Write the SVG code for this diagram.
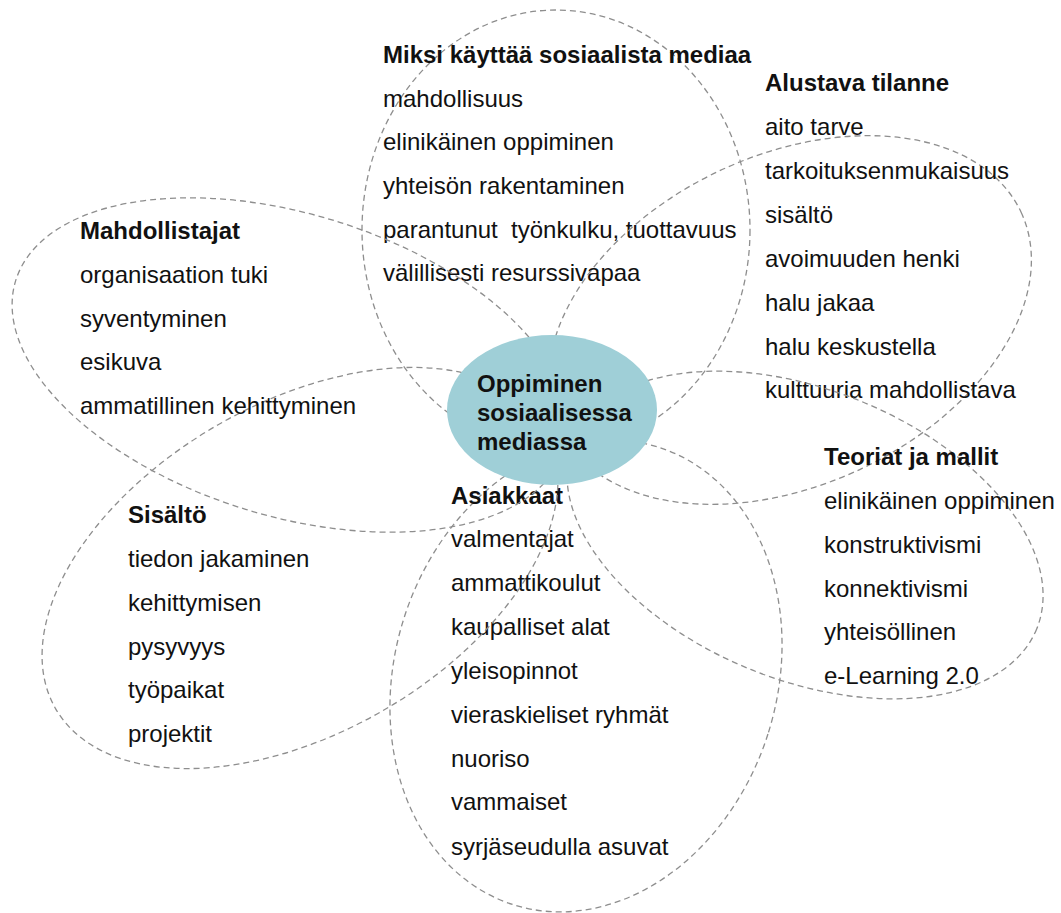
<svg xmlns="http://www.w3.org/2000/svg" width="1061" height="913" viewBox="0 0 1061 913">
<style>
.petal{fill:none;stroke:#8e8e8e;stroke-width:1.3;stroke-dasharray:6 4}
.t{font-family:"Liberation Sans",Arial,sans-serif;font-size:24px;fill:#111}
.h{font-weight:bold}
.core{fill:#9fcfd7;stroke:none}
</style>
<rect width="1061" height="913" fill="#ffffff"/>
<g id="petal-miksi">
<ellipse class="petal" cx="556" cy="230" rx="194" ry="220"/>
<text class="t" xml:space="preserve"><tspan class="h" x="383" y="63">Miksi käyttää sosiaalista mediaa</tspan><tspan x="383" y="106.5">mahdollisuus</tspan><tspan x="383" y="150">elinikäinen oppiminen</tspan><tspan x="383" y="194">yhteisön rakentaminen</tspan><tspan x="383" y="237.5">parantunut  työnkulku, tuottavuus</tspan><tspan x="383" y="281">välillisesti resurssivapaa</tspan></text>
</g>
<g id="petal-alustava">
<ellipse class="petal" cx="790" cy="320" rx="255" ry="165" transform="rotate(-25 790 320)"/>
<text class="t"><tspan class="h" x="765" y="91">Alustava tilanne</tspan><tspan x="765" y="135">aito tarve</tspan><tspan x="765" y="179">tarkoituksenmukaisuus</tspan><tspan x="765" y="223">sisältö</tspan><tspan x="765" y="267">avoimuuden henki</tspan><tspan x="765" y="311">halu jakaa</tspan><tspan x="765" y="355">halu keskustella</tspan><tspan x="765" y="398">kulttuuria mahdollistava</tspan></text>
</g>
<g id="petal-teoriat">
<ellipse class="petal" cx="805" cy="535" rx="250" ry="145" transform="rotate(22 805 535)"/>
<text class="t"><tspan class="h" x="824" y="465">Teoriat ja mallit</tspan><tspan x="824" y="509">elinikäinen oppiminen</tspan><tspan x="824" y="553">konstruktivismi</tspan><tspan x="824" y="597">konnektivismi</tspan><tspan x="824" y="640">yhteisöllinen</tspan><tspan x="824" y="684">e-Learning 2.0</tspan></text>
</g>
<g id="petal-asiakkaat">
<ellipse class="petal" cx="586" cy="676" rx="191" ry="240" transform="rotate(17.7 586 676)"/>
<text class="t"><tspan class="h" x="451" y="504">Asiakkaat</tspan><tspan x="451" y="547">valmentajat</tspan><tspan x="451" y="591">ammattikoulut</tspan><tspan x="451" y="635">kaupalliset alat</tspan><tspan x="451" y="679">yleisopinnot</tspan><tspan x="451" y="723">vieraskieliset ryhmät</tspan><tspan x="451" y="767">nuoriso</tspan><tspan x="451" y="810">vammaiset</tspan><tspan x="451" y="855">syrjäseudulla asuvat</tspan></text>
</g>
<g id="petal-sisalto">
<ellipse class="petal" cx="300" cy="568" rx="282" ry="165" transform="rotate(-29.9 300 568)"/>
<text class="t"><tspan class="h" x="128" y="523">Sisältö</tspan><tspan x="128" y="567">tiedon jakaminen</tspan><tspan x="128" y="611">kehittymisen</tspan><tspan x="128" y="655">pysyvyys</tspan><tspan x="128" y="698">työpaikat</tspan><tspan x="128" y="742">projektit</tspan></text>
</g>
<g id="petal-mahdollistajat">
<ellipse class="petal" cx="290" cy="365" rx="287" ry="151" transform="rotate(17.1 290 365)"/>
<text class="t"><tspan class="h" x="80" y="239">Mahdollistajat</tspan><tspan x="80" y="283">organisaation tuki</tspan><tspan x="80" y="327">syventyminen</tspan><tspan x="80" y="370">esikuva</tspan><tspan x="80" y="414">ammatillinen kehittyminen</tspan></text>
</g>
<g id="center">
<ellipse class="core" cx="552" cy="410" rx="105" ry="75"/>
<text class="t h"><tspan x="477" y="392">Oppiminen</tspan><tspan x="477" y="421">sosiaalisessa</tspan><tspan x="477" y="450">mediassa</tspan></text>
</g>
</svg>
